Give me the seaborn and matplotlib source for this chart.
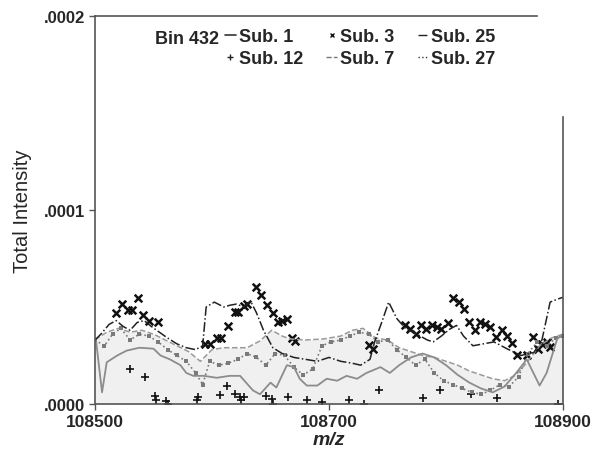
import matplotlib
matplotlib.use("Agg")
import matplotlib.pyplot as plt
from matplotlib.lines import Line2D
import seaborn as sns
import numpy as np

# intensities, in units of 1e-5
sub1_mz = [108500, 108501, 108506, 108510, 108519, 108527, 108538, 108550, 108556, 108564,
           108573, 108578, 108584, 108593, 108604, 108615, 108624, 108635, 108641, 108650,
           108655, 108664, 108670, 108675, 108681, 108690, 108698, 108707, 108715, 108724,
           108732, 108744, 108752, 108760, 108770, 108780, 108790, 108800, 108810, 108820,
           108830, 108840, 108850, 108860, 108869, 108880, 108886, 108895, 108900]
sub1_int = [3.3, 3.2, 0.6, 2.15, 2.5, 2.75, 2.9, 2.85, 2.5, 2.3,
            2.0, 1.6, 1.45, 1.45, 1.35, 1.45, 1.45, 0.7, 0.5, 1.1,
            0.85, 2.0, 1.9, 1.3, 0.95, 0.95, 1.3, 1.2, 1.45, 1.3,
            1.6, 1.9, 1.6, 2.0, 2.4, 2.6, 2.4, 2.0, 1.5, 1.1,
            0.8, 0.6, 0.9, 1.6, 2.3, 0.95, 1.6, 3.35, 3.6]

sub3_mz = [108518, 108523, 108528, 108532, 108537, 108541, 108546, 108554, 108594, 108598,
           108604, 108608, 108614, 108620, 108622, 108627, 108630, 108638, 108642, 108647,
           108652, 108656, 108660, 108664, 108668, 108671, 108734, 108738, 108765, 108769,
           108774, 108779, 108783, 108788, 108792, 108796, 108802, 108806, 108811, 108815,
           108820, 108825, 108829, 108833, 108838, 108843, 108848, 108852, 108856, 108861,
           108869, 108874, 108879, 108882, 108886, 108889]
sub3_int = [4.7, 5.15, 4.85, 4.85, 5.45, 4.6, 4.3, 4.25, 3.1, 3.1,
            3.4, 3.4, 4.0, 4.75, 4.75, 5.05, 5.15, 6.05, 5.6, 5.1,
            4.7, 4.25, 4.3, 4.4, 3.4, 3.25, 3.05, 2.85, 4.05, 3.85,
            3.6, 4.05, 3.85, 4.05, 3.95, 3.85, 4.2, 5.45, 5.25, 4.9,
            4.25, 3.8, 4.25, 4.1, 3.95, 3.45, 3.8, 3.5, 3.15, 2.5,
            2.5, 3.45, 2.85, 3.1, 3.2, 2.95]

sub25_mz = [108500, 108505, 108512, 108518, 108524, 108530, 108536, 108542, 108548, 108555,
            108562, 108570, 108578, 108586, 108592, 108595, 108602, 108610, 108616, 108621,
            108627, 108633, 108638, 108644, 108652, 108660, 108670, 108680, 108690, 108700,
            108710, 108720, 108727, 108735, 108739, 108745, 108751, 108758, 108766, 108772,
            108778, 108784, 108789, 108796, 108803, 108809, 108815, 108823, 108832, 108841,
            108852, 108864, 108875, 108882, 108889, 108895, 108900]
sub25_int = [3.3, 3.6, 4.1, 4.3, 4.0, 3.8, 4.2, 4.3, 4.0, 3.7,
             3.4, 3.1, 2.9, 2.8, 3.0, 5.0, 5.25, 5.0, 5.1, 5.15,
             5.0, 5.3, 4.7, 3.8, 2.9, 2.6, 2.4, 2.3, 2.2, 2.4,
             2.2, 2.1, 2.0, 2.3, 3.2, 4.2, 5.25, 4.4, 3.85, 3.7,
             3.5, 3.3, 3.2, 3.5, 3.85, 4.05, 3.5, 3.0, 3.1, 3.2,
             2.85, 2.5, 2.65, 3.3, 5.25, 5.4, 5.5]

sub12_mz = [108530, 108543, 108551, 108552, 108561, 108562, 108587, 108588, 108607, 108613,
            108620, 108624, 108625, 108627, 108646, 108651, 108652, 108665, 108681, 108694,
            108717, 108730, 108743, 108780, 108795, 108821, 108844, 108896]
sub12_int = [1.8, 1.4, 0.4, 0.2, 0.15, 0.0, 0.2, 0.35, 0.45, 0.95,
             0.5, 0.35, 0.2, 0.35, 0.4, 0.25, 0.0, 0.35, 0.2, 0.1,
             0.2, 0.0, 0.7, 0.3, 0.7, 0.5, 0.3, 0.0]

sub7_mz = [108500, 108510, 108520, 108530, 108540, 108550, 108560, 108570, 108580, 108590,
           108600, 108610, 108620, 108630, 108641, 108651, 108660, 108667, 108680, 108695,
           108710, 108720, 108729, 108740, 108750, 108760, 108770, 108780, 108790, 108800,
           108810, 108820, 108830, 108840, 108850, 108860, 108870, 108880, 108890, 108900]
sub7_int = [3.3, 3.7, 3.9, 3.7, 3.8, 3.6, 3.3, 3.0, 2.7, 2.2,
            2.8, 2.9, 2.9, 2.9, 3.25, 3.8, 3.5, 3.35, 3.3, 3.35,
            3.5, 3.8, 3.9, 3.4, 3.3, 2.9, 2.7, 2.5, 2.4, 2.2,
            2.0, 1.7, 1.5, 1.3, 1.2, 1.5, 2.2, 3.0, 3.4, 3.6]

sub27_mz = [108500, 108508, 108515, 108522, 108530, 108538, 108546, 108554, 108562, 108570,
            108578, 108586, 108592, 108598, 108606, 108614, 108622, 108630, 108638, 108646,
            108654, 108662, 108670, 108678, 108686, 108694, 108702, 108710, 108718, 108726,
            108734, 108742, 108750, 108758, 108766, 108774, 108782, 108790, 108798, 108806,
            108814, 108822, 108830, 108838, 108846, 108854, 108862, 108870, 108878, 108886,
            108894, 108900]
sub27_int = [3.3, 3.0, 3.6, 3.9, 3.3, 3.6, 3.5, 3.2, 2.8, 2.5,
             2.2, 1.6, 1.0, 2.2, 2.0, 2.1, 2.3, 2.6, 2.4, 2.0,
             2.6, 2.5, 1.9, 1.5, 1.8, 3.0, 3.2, 3.3, 3.5, 3.7,
             3.6, 3.2, 3.3, 2.8, 2.4, 2.0, 2.3, 1.6, 1.2, 1.0,
             0.8, 0.6, 0.5, 0.7, 1.0, 0.9, 1.4, 2.6, 3.2, 3.0,
             3.4, 3.5]

yticks = [0.0, 0.0001, 0.0002]
ytick_labels = [".0000", ".0001", ".0002"]
xticks = [108500, 108700, 108900]

sns.set_style("ticks")
plt.rcParams['font.family'] = ['Liberation Sans', 'DejaVu Sans']

fig = plt.figure(figsize=(5.95, 4.6), dpi=100)
ax = fig.add_axes([0.1597, 0.1196, 0.7865, 0.8435])

scale = 1e-5
s1 = np.array(sub1_int) * scale
s3 = np.array(sub3_int) * scale
s25 = np.array(sub25_int) * scale
s12 = np.array(sub12_int) * scale
s7 = np.array(sub7_int) * scale
s27 = np.array(sub27_int) * scale

# faint grey wash under the lower traces, like the scan
ax.fill_between(sub7_mz, 0, s7, color="#f0f0f0", lw=0, zorder=0)

sns.lineplot(x=sub7_mz, y=s7, ax=ax, color="#9a9a9a", linestyle="--", lw=1.1)
sns.lineplot(x=sub27_mz, y=s27, ax=ax, color="#7a7a7a", linestyle=":", lw=1.2,
             marker="s", markersize=3.5, markeredgewidth=0)
sns.lineplot(x=sub1_mz, y=s1, ax=ax, color="#8c8c8c", linestyle="-", lw=1.3)
sns.lineplot(x=sub25_mz, y=s25, ax=ax, color="#222222", linestyle="-.", lw=1.1)
sns.scatterplot(x=sub3_mz, y=s3, ax=ax, marker="x", s=30, color="#111111", linewidth=1.8)
sns.scatterplot(x=sub12_mz, y=s12, ax=ax, marker="+", s=30, color="#111111", linewidth=1.2)

ax.set_xlim(108500, 108900)
ax.set_ylim(0, 0.0002)
ax.set_xticks(xticks)
ax.set_xticklabels([str(v) for v in xticks], fontsize=12.5, fontweight="bold")
ax.set_yticks(yticks)
ax.set_yticklabels(ytick_labels, fontsize=12, fontweight="bold")
ax.tick_params(direction="out", length=4, width=1, color="#555555", pad=3)
ax.set_xlabel("m/z", fontsize=14, fontstyle="italic", fontweight="bold", labelpad=2)
ax.set_ylabel("Total Intensity", fontsize=14.5, labelpad=9)

for side in ["left", "bottom", "top", "right"]:
    ax.spines[side].set_color("#555555")
    ax.spines[side].set_linewidth(1.2)
ax.spines["top"].set_bounds(108500, 108878)
ax.spines["right"].set_bounds(0, 0.000148)

fig.text(155 / 595, 1 - 39 / 460, "Bin 432", fontsize=13, fontweight="bold", va="center")

handles = [
    Line2D([], [], color="#333333", lw=1.2),
    Line2D([], [], color="#222222", marker="+", linestyle="none", markersize=4),
    Line2D([], [], color="#111111", marker="x", linestyle="none", markersize=3),
    Line2D([], [], color="#777777", lw=1.0, linestyle="--"),
    Line2D([], [], color="#222222", lw=1.0, linestyle="-."),
    Line2D([], [], color="#333333", lw=1.0, linestyle=":"),
]
labels = ["Sub. 1", "Sub. 12", "Sub. 3", "Sub. 7", "Sub. 25", "Sub. 27"]
fig.legend(handles, labels, ncol=3, loc="upper left",
           bbox_to_anchor=(225 / 595, 1 - 29 / 460), frameon=False,
           borderpad=0, borderaxespad=0,
           handlelength=0.6, handletextpad=0.15, columnspacing=1.3,
           labelspacing=0.3, prop={"size": 13, "weight": "bold"})

fig.savefig("out.png", dpi=100)
